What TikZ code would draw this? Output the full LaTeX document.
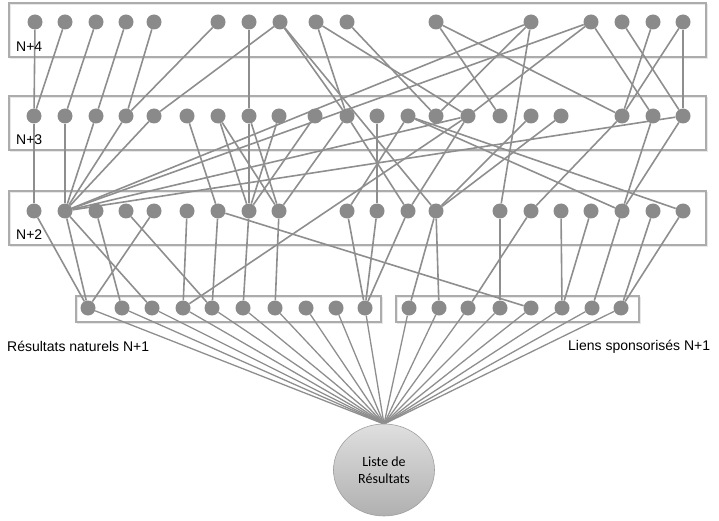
\documentclass[tikz,border=0pt]{standalone}
\usepackage{fontspec}
\setmainfont{Liberation Sans}
\newfontfamily\calib{Carlito}
\usetikzlibrary{shapes.geometric,backgrounds}
\begin{document}
\begin{tikzpicture}[x=1pt,y=-1pt,
  dot/.style={circle,fill=dotgray,inner sep=0pt,minimum size=15pt},
  link/.style={draw=linkgray,line width=1.6pt},
  fan/.style={draw=linkgray,line width=1.3pt},
  frame/.style={draw=framegray,line width=1.2pt},
  shade/.style={draw=gray!18,line width=1.6pt},
  lbl/.style={anchor=base west,inner sep=0pt,font=\fontsize{14}{16}\selectfont}]
\definecolor{dotgray}{HTML}{8A8A8A}
\definecolor{linkgray}{HTML}{8E8E8E}
\definecolor{framegray}{HTML}{ACACAC}
\useasboundingbox (0,0) rectangle (719,521);
% labels
\node[lbl] (l4) at (16,52) {N+4};
\node[lbl] (l3) at (16,145) {N+3};
\node[lbl] (l2) at (16,240) {N+2};
\node[lbl] (ln) at (7,351) {Résultats naturels N+1};
\node[lbl] (ls) at (568,350) {Liens sponsorisés N+1};
% result circle
\node[ellipse,minimum width=101pt,minimum height=92pt,inner sep=0pt,
  draw=gray!75,line width=0.6pt,top color=gray!25,bottom color=gray!62,
  align=center,font=\calib\fontsize{14}{17}\selectfont] (res) at (384,470)
  {Liste de\\Résultats};
\coordinate (apex) at (384,424);
% nodes
\foreach \x in {35,65,96,126,154,218,249,280,316,347,436,531,591,622,653,683}
  \node[dot] (a\x) at (\x,22) {};
\foreach \x in {34,65,96,126,154,187,218,249,279,315,347,377,408,436,468,500,531,561,622,653,683}
  \node[dot] (b\x) at (\x,116) {};
\foreach \x in {34,65,96,126,154,187,218,249,279,347,377,408,436,500,531,561,591,622,653,683}
  \node[dot] (c\x) at (\x,211) {};
\foreach \x in {88,122,152,183,212,243,275,306,336,365,409,439,468,500,531,562,592,621}
  \node[dot] (d\x) at (\x,308) {};
\begin{scope}[on background layer]
% frames with a faint shadow
\foreach \p/\q in {{(9,3)}/{(706,57)},{(9,96)}/{(706,150)},{(9,191)}/{(706,245)},
                   {(76,296)}/{(381,322)},{(396,296)}/{(639,322)}}{
  \draw[shade,shift={(1.5,1.5)}] \p rectangle \q;
  \draw[frame] \p rectangle \q;}
% edges
\foreach \u/\v in {a35/b34,a65/b34,a96/b65,a126/b96,a154/b126,a218/b126,a249/b249,
  a280/b154,a280/b347,a280/c436,a316/b347,a316/b468,a347/b436,a436/b500,a436/b622,
  a531/b436,a531/c500,a531/c65,a591/c65,a591/b468,a591/b653,a622/b683,a653/b622,
  a683/b622,a683/b683,
  b34/c34,b65/c65,b96/c65,b126/c65,b154/c65,b187/c218,b218/c249,b218/c279,b249/c249,
  b249/c279,b279/c249,b315/c249,b347/c279,b347/c408,b377/c377,b408/c683,b408/c347,
  b531/c436,b561/c436,b622/c531,b653/c622,b683/c622,b468/c65,b683/c65,b408/c622,b468/c408,
  c34/d88,c65/d88,c65/d152,c96/d122,c126/d212,c154/d88,c187/d183,c218/d212,c218/d531,
  c249/d243,c279/d275,c347/d365,c377/d365,c408/d365,c436/d409,c436/d439,c500/d500,
  c531/d468,c561/d562,c591/d562,c622/d592,c653/d621,c683/d621,d183/b468}
  \draw[link] (\u) -- (\v);
\foreach \x in {88,122,152,183,212,243,275,306,336,365,409,439,468,500,531,562,592,621}
  \draw[fan] (d\x) -- (apex);
\end{scope}
\end{tikzpicture}
\end{document}
